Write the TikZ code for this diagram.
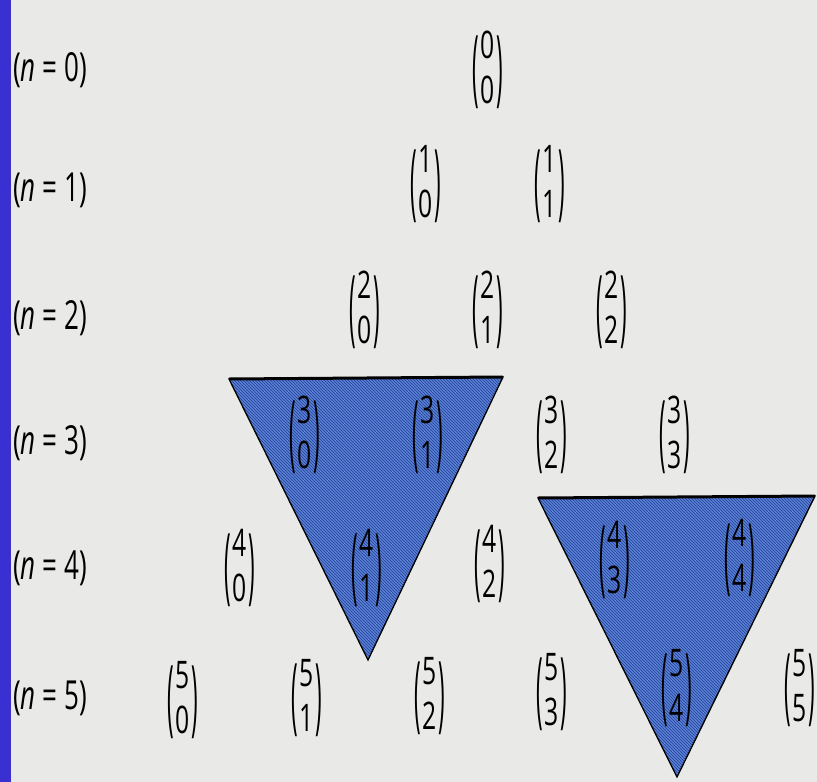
\documentclass[tikz,border=0pt]{standalone}
\usepackage{fontspec}
\setmainfont[FakeStretch=0.65]{Open Sans}
\usetikzlibrary{patterns}
\definecolor{bgc}{HTML}{E9E9E7}
\definecolor{strip}{HTML}{3A30D2}
\definecolor{trif}{HTML}{5A80D8}
\definecolor{trih}{HTML}{23408F}
\newcommand{\bpar}[1]{\vcenter{\hbox{\scalebox{0.9}[2.2]{#1}}}}
\newcommand{\bn}[2]{$\bpar{(}\kern1.8pt\vcenter{\hbox{\begin{tabular}{@{}c@{}}#1\\#2\end{tabular}}}\kern1.8pt\bpar{)}$}
\tikzset{
  bin/.style={inner sep=0pt, font=\fontsize{38}{45}\selectfont},
  rowlab/.style={anchor=west, inner sep=0pt, font=\fontsize{40}{48}\selectfont},
  tri/.style={fill=trif},
  hatch/.style={pattern=north west lines, pattern color=trih},
  triedge/.style={draw=black, line width=1.3pt, line join=miter},
  topedge/.style={draw=black, line width=3pt}
}
\begin{document}
\begin{tikzpicture}[x=1pt,y=-1pt]
\useasboundingbox (0,0) rectangle (817,782);
\fill[bgc] (0,0) rectangle (817,782);
\fill[strip] (0,0) rectangle (11,782);
% triangles
\coordinate (ta1) at (229,379);
\coordinate (tb1) at (503,377);
\coordinate (tc1) at (368,660);
\coordinate (ta2) at (538,498);
\coordinate (tb2) at (815,496);
\coordinate (tc2) at (677,777);
\fill[tri] (ta1) -- (tb1) -- (tc1) -- cycle;
\fill[hatch] (ta1) -- (tb1) -- (tc1) -- cycle;
\draw[triedge] (ta1) -- (tb1) -- (tc1) -- cycle;
\draw[topedge] (ta1) -- (tb1);
\fill[tri] (ta2) -- (tb2) -- (tc2) -- cycle;
\fill[hatch] (ta2) -- (tb2) -- (tc2) -- cycle;
\draw[triedge] (ta2) -- (tb2) -- (tc2) -- cycle;
\draw[topedge] (ta2) -- (tb2);
% row labels
\node[rowlab] (l0) at (13,70) {(\textit{n} = 0)};
\node[rowlab] (l1) at (13,190) {(\textit{n} = 1)};
\node[rowlab] (l2) at (13,318) {(\textit{n} = 2)};
\node[rowlab] (l3) at (13,443) {(\textit{n} = 3)};
\node[rowlab] (l4) at (13,568) {(\textit{n} = 4)};
\node[rowlab] (l5) at (13,698) {(\textit{n} = 5)};
% binomials
\node[bin] (b00) at (488,72) {\bn{0}{0}};
\node[bin] (b10) at (426,186) {\bn{1}{0}};
\node[bin] (b11) at (550,186) {\bn{1}{1}};
\node[bin] (b20) at (365,312) {\bn{2}{0}};
\node[bin] (b21) at (488,312) {\bn{2}{1}};
\node[bin] (b22) at (612,312) {\bn{2}{2}};
\node[bin] (b30) at (305,437) {\bn{3}{0}};
\node[bin] (b31) at (428,437) {\bn{3}{1}};
\node[bin] (b32) at (552,437) {\bn{3}{2}};
\node[bin] (b33) at (675,437) {\bn{3}{3}};
\node[bin] (b40) at (240,570) {\bn{4}{0}};
\node[bin] (b41) at (367,570) {\bn{4}{1}};
\node[bin] (b42) at (490,566) {\bn{4}{2}};
\node[bin] (b43) at (615,562) {\bn{4}{3}};
\node[bin] (b44) at (740,560) {\bn{4}{4}};
\node[bin] (b50) at (183,702) {\bn{5}{0}};
\node[bin] (b51) at (307,700) {\bn{5}{1}};
\node[bin] (b52) at (430,698) {\bn{5}{2}};
\node[bin] (b53) at (552,694) {\bn{5}{3}};
\node[bin] (b54) at (677,690) {\bn{5}{4}};
\node[bin] (b55) at (800,690) {\bn{5}{5}};
\end{tikzpicture}
\end{document}
